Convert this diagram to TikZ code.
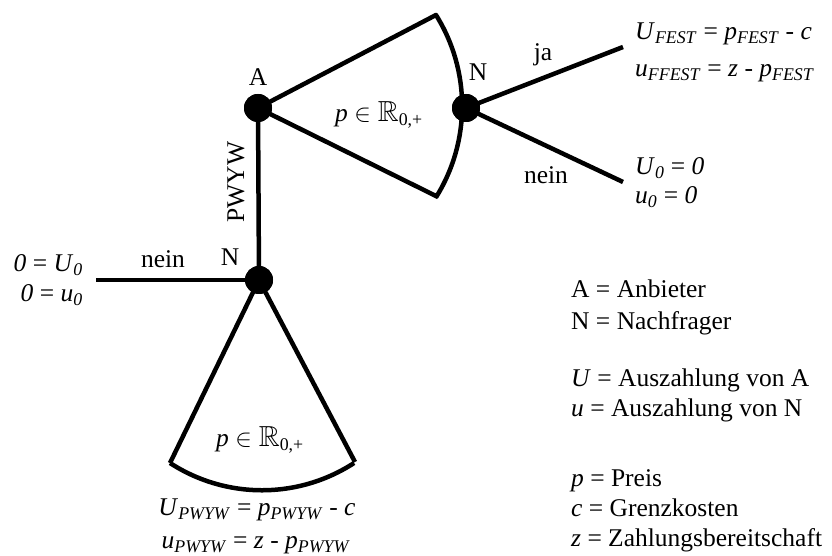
\documentclass[tikz,border=0pt]{standalone}
\usepackage{amssymb}
\usepackage{fontspec}
\setmainfont{Liberation Serif}
\newcommand{\iv}[1]{\textit{#1}}
\newcommand{\sbi}[1]{\textsubscript{\textit{#1}}}
\newcommand{\prange}{\iv{p} {\fontsize{29}{30}\selectfont$\in\mathbb{R}$}\textsubscript{0,+}}
\begin{document}
\begin{tikzpicture}[x=1pt,y=1pt,
  edge/.style={line width=4.5pt},
  dot/.style={circle,fill=black,inner sep=0pt,minimum size=28pt},
  lbl/.style={inner sep=0pt,font=\fontsize{25.5}{30}\selectfont},
  pay/.style={inner sep=0pt,font=\fontsize{25.5}{30}\selectfont},
  leg/.style={inner sep=0pt,font=\fontsize{25.5}{30}\selectfont,anchor=base west}]
\useasboundingbox (0,0) rectangle (832,556);
% decision nodes
\node[dot] (A) at (258,448) {};
\node[dot] (N1) at (466,448) {};
\node[dot] (N2) at (259,276) {};
% fan corners
\coordinate (u1) at (436,541);
\coordinate (u2) at (438,359);
\coordinate (l1) at (170,93);
\coordinate (l2) at (355,94);
\coordinate (nl) at (96,276);
\coordinate (ja) at (623,509);
\coordinate (nr) at (623,374);
% edges
\draw[edge,line join=round] (u2) -- (A.center) -- (u1) arc[start angle=32,end angle=-32,radius=172];
\draw[edge,line join=round] (l1) -- (N2.center) -- (l2);
\draw[edge] (l1) arc[start angle=-123,end angle=-57,radius=169];
\draw[edge] (A.center) -- (N2.center);
\draw[edge] (N2.center) -- (nl);
\draw[edge] (N1.center) -- (ja);
\draw[edge] (N1.center) -- (nr);
% redraw dots on top
\node[dot] at (A) {};
\node[dot] at (N1) {};
\node[dot] at (N2) {};
% labels
\node[lbl] (lA) at (258,479) {A};
\node[lbl] (lN1) at (478,484) {N};
\node[lbl] (lN2) at (230,299) {N};
\node[lbl] (nein1) at (163,297) {nein};
\node[lbl,rotate=90] (pwyw) at (236,374) {PWYW};
\node[lbl] (lja) at (543,501) {ja};
\node[lbl] (nein2) at (546,381) {nein};
\node[lbl] (pu) at (379,441) {\prange};
\node[lbl] (pl) at (260,116) {\prange};
% payoffs
\node[pay,anchor=base west] (pf1) at (635,516) {\iv{U}\sbi{FEST} = \iv{p}\sbi{FEST} - \iv{c}};
\node[pay,anchor=base west] (pf2) at (635,479) {\iv{u}\sbi{FFEST} = \iv{z} - \iv{p}\sbi{FEST}};
\node[pay,anchor=base west] (p01) at (635,381) {\iv{U}\sbi{0} = \iv{0}};
\node[pay,anchor=base west] (p02) at (635,352) {\iv{u}\sbi{0} = \iv{0}};
\node[pay,anchor=base east] (pn1) at (83,284) {\iv{0} = \iv{U}\sbi{0}};
\node[pay,anchor=base east] (pn2) at (83,254) {\iv{0} = \iv{u}\sbi{0}};
\node[pay,anchor=base] (pp1) at (257,40) {\iv{U}\sbi{PWYW} = \iv{p}\sbi{PWYW} - \iv{c}};
\node[pay,anchor=base] (pp2) at (256,7) {\iv{u}\sbi{PWYW} = \iv{z} - \iv{p}\sbi{PWYW}};
% legend
\node[leg] (g1) at (571,258) {A = Anbieter};
\node[leg] (g2) at (571,226) {N = Nachfrager};
\node[leg] (g3) at (571,169) {\iv{U} = Auszahlung von A};
\node[leg] (g4) at (571,139) {\iv{u} = Auszahlung von N};
\node[leg] (g5) at (571,69) {\iv{p} = Preis};
\node[leg] (g6) at (571,39) {\iv{c} = Grenzkosten};
\node[leg] (g7) at (571,9) {\iv{z} = Zahlungsbereitschaft};
\end{tikzpicture}
\end{document}
